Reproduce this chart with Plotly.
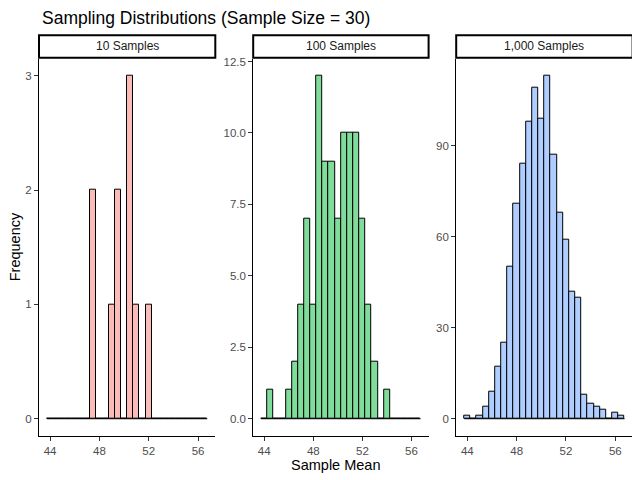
import plotly.graph_objects as go

# ---- data ----
bin_centers = [44.0, 44.5, 45.0, 45.5, 46.0, 46.5, 47.0, 47.5, 48.0, 48.5,
               49.0, 49.5, 50.0, 50.5, 51.0, 51.5, 52.0, 52.5, 53.0, 53.5,
               54.0, 54.5, 55.0, 55.5, 56.0, 56.5]
bin_width = 0.5
counts_10 = [0, 0, 0, 0, 0, 0, 0, 2, 0, 0,
             1, 2, 0, 3, 1, 0, 1, 0, 0, 0,
             0, 0, 0, 0, 0, 0]
counts_100 = [0, 1, 0, 0, 1, 2, 4, 7, 4, 12,
              9, 9, 7, 10, 10, 10, 7, 4, 2, 0,
              1, 0, 0, 0, 0, 0]
counts_1000 = [1, 0, 1, 4, 9, 17, 25, 50, 71, 84,
               98, 109, 99, 113, 87, 68, 59, 42, 40, 8,
               5, 4, 3, 0, 2, 1]
panel_titles = ["10 Samples", "100 Samples", "1,000 Samples"]
x_tick_vals = [44, 48, 52, 56]
y_tick_vals = [[0, 1, 2, 3], [0, 2.5, 5.0, 7.5, 10.0, 12.5], [0, 30, 60, 90]]
y_tick_text = [["0", "1", "2", "3"],
               ["0.0", "2.5", "5.0", "7.5", "10.0", "12.5"],
               ["0", "30", "60", "90"]]

# ---- styling ----
OFF = 8  # default page body margin
W, H = 640 - OFF, 480 - OFF
fills = ["#FBBBB7", "#80DC9B", "#B0CDFF"]
FONT = "Liberation Sans, Arial, sans-serif"
panel_px = [(39.0, 215.3), (253.2, 428.6), (456.2, 632.6)]
panel_py = (56.0, 435.6)
strip_py = (32.3, 55.0)


def fx(px):
    return (px - OFF) / W


def fy(py):
    return 1 - (py - OFF) / H


all_counts = [counts_10, counts_100, counts_1000]

lo = bin_centers[0] - bin_width / 2
hi = bin_centers[-1] + bin_width / 2
xpad = 0.05 * (hi - lo)

fig = go.Figure()
layout = dict(
    width=W, height=H,
    margin=dict(l=0, r=0, t=0, b=0),
    paper_bgcolor="white", plot_bgcolor="white",
    showlegend=False, bargap=0,
    font=dict(family=FONT, color="#4D4D4D", size=11.5),
)
shapes = []
annotations = []

for i, counts in enumerate(all_counts):
    sx = "" if i == 0 else str(i + 1)
    xa, ya = "x" + sx, "y" + sx
    fig.add_trace(go.Bar(
        x=bin_centers, y=counts, width=bin_width,
        marker=dict(color=fills[i], line=dict(color="black", width=1)),
        xaxis=xa, yaxis=ya, hoverinfo="x+y",
    ))
    fig.add_trace(go.Scatter(
        x=[lo, hi], y=[0, 0], mode="lines",
        line=dict(color="black", width=1),
        xaxis=xa, yaxis=ya, hoverinfo="skip",
    ))
    m = max(counts)
    x0, x1 = panel_px[i]
    layout["xaxis" + sx] = dict(
        domain=[fx(x0), fx(x1)], anchor=ya,
        range=[lo - xpad, hi + xpad],
        tickvals=x_tick_vals, ticks="outside", ticklen=4,
        tickcolor="#333333", tickwidth=1,
        showline=True, linecolor="black", linewidth=1,
        showgrid=False, zeroline=False,
        tickfont=dict(family=FONT, color="#4D4D4D", size=11.5),
    )
    layout["yaxis" + sx] = dict(
        domain=[fy(panel_py[1]), fy(panel_py[0])], anchor=xa,
        range=[-0.05 * m, 1.05 * m],
        tickvals=y_tick_vals[i], ticktext=y_tick_text[i],
        ticks="outside", ticklen=4, tickcolor="#333333", tickwidth=1,
        showline=True, linecolor="black", linewidth=1,
        showgrid=False, zeroline=False,
        tickfont=dict(family=FONT, color="#4D4D4D", size=11.5),
    )
    shapes.append(dict(
        type="rect", xref="paper", yref="paper",
        x0=fx(x0), x1=fx(x1),
        y0=fy(strip_py[1]), y1=fy(strip_py[0]),
        line=dict(color="black", width=2), fillcolor="white", layer="above",
    ))
    annotations.append(dict(
        text=panel_titles[i], xref="paper", yref="paper",
        x=fx((x0 + x1) / 2), y=fy((strip_py[0] + strip_py[1]) / 2),
        xanchor="center", yanchor="middle", showarrow=False,
        font=dict(family=FONT, color="#1A1A1A", size=12),
    ))

annotations.append(dict(
    text="Sampling Distributions (Sample Size = 30)", xref="paper", yref="paper",
    x=fx(39.5), y=fy(15.5), xanchor="left", yanchor="middle",
    showarrow=False, font=dict(family=FONT, color="black", size=17.5),
))
annotations.append(dict(
    text="Frequency", xref="paper", yref="paper",
    x=fx(15), y=fy((panel_py[0] + panel_py[1]) / 2),
    xanchor="center", yanchor="middle", textangle=-90,
    showarrow=False, font=dict(family=FONT, color="black", size=14.5),
))
annotations.append(dict(
    text="Sample Mean", xref="paper", yref="paper",
    x=fx((panel_px[0][0] + panel_px[2][1]) / 2), y=fy(465),
    xanchor="center", yanchor="middle",
    showarrow=False, font=dict(family=FONT, color="black", size=14.5),
))

layout["shapes"] = shapes
layout["annotations"] = annotations
fig.update_layout(**layout)
fig.write_html("out.html")
